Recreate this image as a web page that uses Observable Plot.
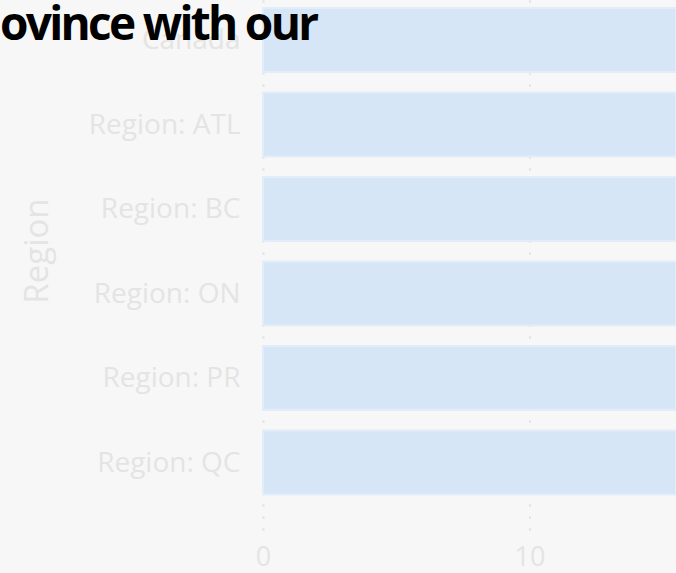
<!DOCTYPE html>
<html>
<head>
<meta charset="utf-8">
<script src="https://cdn.jsdelivr.net/npm/d3@7"></script>
<script src="https://cdn.jsdelivr.net/npm/@observablehq/plot@0.6"></script>
<style>
  html, body { margin: 0; padding: 0; background: #f7f7f7; overflow: hidden; }
  #wrap { position: relative; width: 676px; height: 573px; overflow: hidden; }
  #title { position: absolute; left: 0px; top: -1px; font-family: "Open Sans", sans-serif; font-weight: 700;
           font-size: 46px; line-height: 1; letter-spacing: -2.7px; color: #000; white-space: nowrap; z-index: 2; }
  #chart { position: absolute; left: 0; top: 0; }
</style>
</head>
<body>
<div id="wrap">
  <div id="chart"></div>
  <div id="title">ovince with our</div>
</div>
<script>
const regions = ["Canada", "Region: ATL", "Region: BC", "Region: ON", "Region: PR", "Region: QC"];
// bars run past the visible right edge; values estimated as exceeding the cropped view
const values = [18, 18, 18, 18, 18, 18];
const xTicks = [0, 10];
const yTitle = "Region";

const data = regions.map((r, i) => ({region: r, value: values[i]}));

const chart = Plot.plot({
  width: 676,
  height: 573,
  marginLeft: 263,
  marginRight: 0,
  marginTop: 0,
  marginBottom: 40,
  style: {background: "#f7f7f7", fontFamily: "'Open Sans', sans-serif", fontSize: "28px", color: "#e4e4e4", maxWidth: "none"},
  x: {domain: [0, 15.5], clamp: true},
  y: {domain: regions, paddingInner: 0.243, paddingOuter: 0.2755, align: 0.172, round: false},
  marks: [
    Plot.gridX(xTicks, {stroke: "#e6e6e6", strokeOpacity: 1, strokeDasharray: "3,9", strokeWidth: 2}),
    Plot.barX(data, {x: "value", y: "region", fill: "#d6e6f6", stroke: "#e2edf9", strokeWidth: 2}),
    Plot.axisX(xTicks, {tickSize: 0, tickPadding: 13, label: null, fill: "#e4e4e4", fontSize: 27}),
    Plot.axisY({tickSize: 0, tickPadding: 23, label: null, fill: "#e4e4e4", fontSize: 28}),
    Plot.text([yTitle], {frameAnchor: "left", rotate: -90, dx: -226, dy: -16, lineAnchor: "middle", textAnchor: "middle", fontSize: 33, fill: "#e4e4e4"})
  ]
});
document.getElementById("chart").appendChild(chart);
</script>
</body>
</html>
